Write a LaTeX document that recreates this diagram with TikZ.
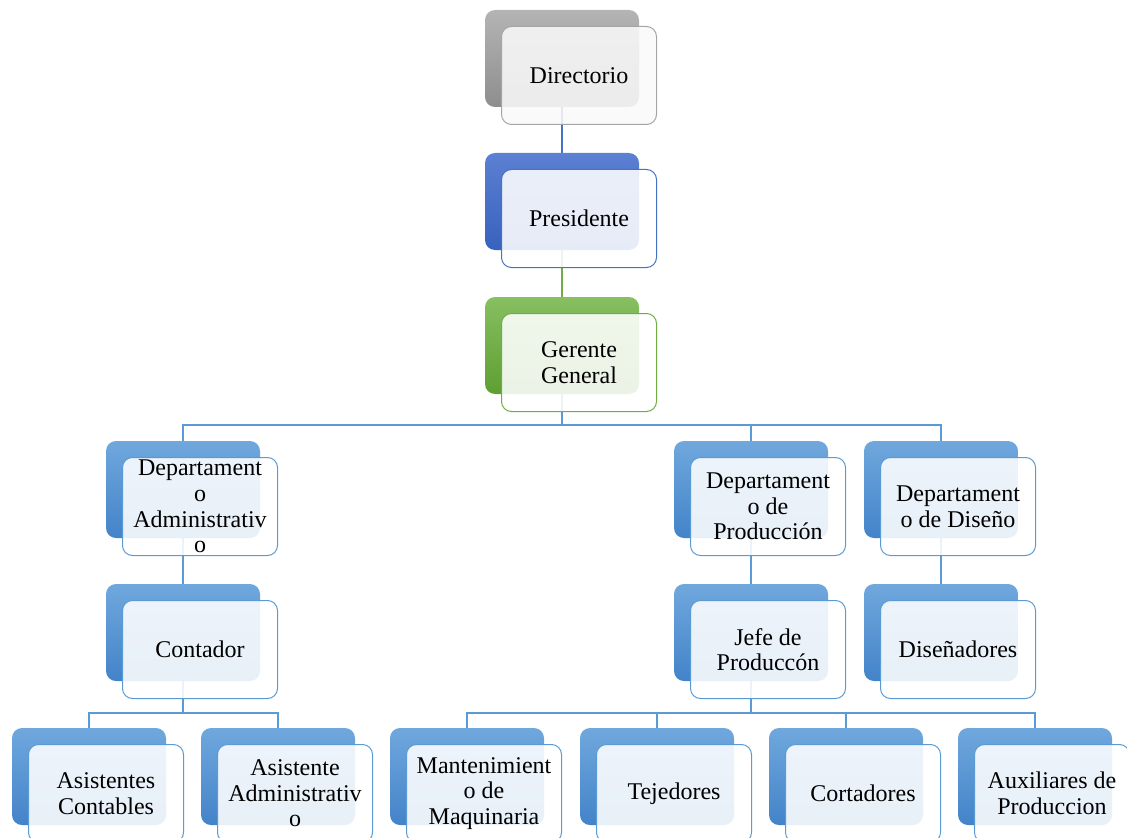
\documentclass[tikz,border=0pt]{standalone}
\usepackage{fontspec}
\setmainfont{Liberation Serif}
\definecolor{bluetop}{HTML}{70A8DD}
\definecolor{bluebot}{HTML}{4383C9}
\definecolor{blueline}{HTML}{5B9BD5}
\definecolor{graytop}{HTML}{B4B4B4}
\definecolor{graybot}{HTML}{8E8E8E}
\definecolor{grayline}{HTML}{A5A5A5}
\definecolor{prestop}{HTML}{5C80D2}
\definecolor{presbot}{HTML}{3762BE}
\definecolor{presline}{HTML}{4472C4}
\definecolor{greentop}{HTML}{88BF61}
\definecolor{greenbot}{HTML}{5E9F31}
\definecolor{greenline}{HTML}{70AD47}
\pgfdeclarelayer{bg}
\pgfsetlayers{bg,main}
\tikzset{
  back/.style={rounded corners=7.5pt, minimum width=115.5pt, minimum height=72.75pt, inner sep=0pt, draw=none},
  front/.style={rounded corners=7.5pt, minimum width=116.25pt, minimum height=73.5pt, line width=0.75pt,
    fill=white, fill opacity=0.88, text opacity=1, draw opacity=1, align=center, inner sep=0pt,
    font=\fontsize{18pt}{19.2pt}\selectfont},
  bluebk/.style={back, top color=bluetop, bottom color=bluebot},
  bluefr/.style={front, draw=blueline},
  graybk/.style={back, top color=graytop, bottom color=graybot},
  grayfr/.style={front, draw=grayline, fill=white!95!gray},
  presbk/.style={back, top color=prestop, bottom color=presbot},
  presfr/.style={front, draw=presline},
  greenbk/.style={back, top color=greentop, bottom color=greenbot},
  greenfr/.style={front, draw=greenline},
  link/.style={draw=blueline, line width=1pt},
}
\newcommand\obox[6]{%
  \node[#4] (#1b) at (#2,#3) {};
  \node[#5] (#1) at (#2+17,#3+17) {#6};}
\begin{document}
\begin{tikzpicture}[x=0.75pt,y=-0.75pt]
\useasboundingbox (0,0) rectangle (1127,838);
\obox{dir}{562}{58.5}{graybk}{grayfr}{Directorio}
\obox{pres}{562}{201.5}{presbk}{presfr}{Presidente}
\obox{ger}{562}{345.5}{greenbk}{greenfr}{Gerente\\General}
\obox{adm}{183}{489.5}{bluebk}{bluefr}{Departament\\o\\Administrativ\\o}
\obox{prod}{751}{489.5}{bluebk}{bluefr}{Departament\\o de\\Producción}
\obox{dis}{941}{489.5}{bluebk}{bluefr}{Departament\\o de Diseño}
\obox{cont}{183}{632.5}{bluebk}{bluefr}{Contador}
\obox{jefe}{751}{632.5}{bluebk}{bluefr}{Jefe de\\Produccón}
\obox{dsn}{941}{632.5}{bluebk}{bluefr}{Diseñadores}
\obox{ac}{89}{776.5}{bluebk}{bluefr}{Asistentes\\Contables}
\obox{aa}{278}{776.5}{bluebk}{bluefr}{Asistente\\Administrativ\\o}
\obox{mant}{467}{776.5}{bluebk}{bluefr}{Mantenimient\\o de\\Maquinaria}
\obox{tej}{657}{776.5}{bluebk}{bluefr}{Tejedores}
\obox{cor}{846}{776.5}{bluebk}{bluefr}{Cortadores}
\obox{aux}{1035}{776.5}{bluebk}{bluefr}{Auxiliares de\\Produccion}
\coordinate (bus1) at (562,425);
\coordinate (bus2) at (183,713);
\coordinate (bus3) at (751,713);
\begin{pgfonlayer}{bg}
\draw[link, draw=presline] (dirb.south) -- (presb.north);
\draw[link, draw=greenline] (presb.south) -- (gerb.north);
\draw[link] (gerb.south) -- (bus1) -| (admb.north);
\draw[link] (bus1) -| (prodb.north);
\draw[link] (bus1) -| (disb.north);
\draw[link] (admb.south) -- (contb.north);
\draw[link] (prodb.south) -- (jefeb.north);
\draw[link] (disb.south) -- (dsnb.north);
\draw[link] (contb.south) -- (bus2) -| (acb.north);
\draw[link] (bus2) -| (aab.north);
\draw[link] (jefeb.south) -- (bus3) -| (mantb.north);
\draw[link] (bus3) -| (tejb.north);
\draw[link] (bus3) -| (corb.north);
\draw[link] (bus3) -| (auxb.north);
\end{pgfonlayer}
\end{tikzpicture}
\end{document}
